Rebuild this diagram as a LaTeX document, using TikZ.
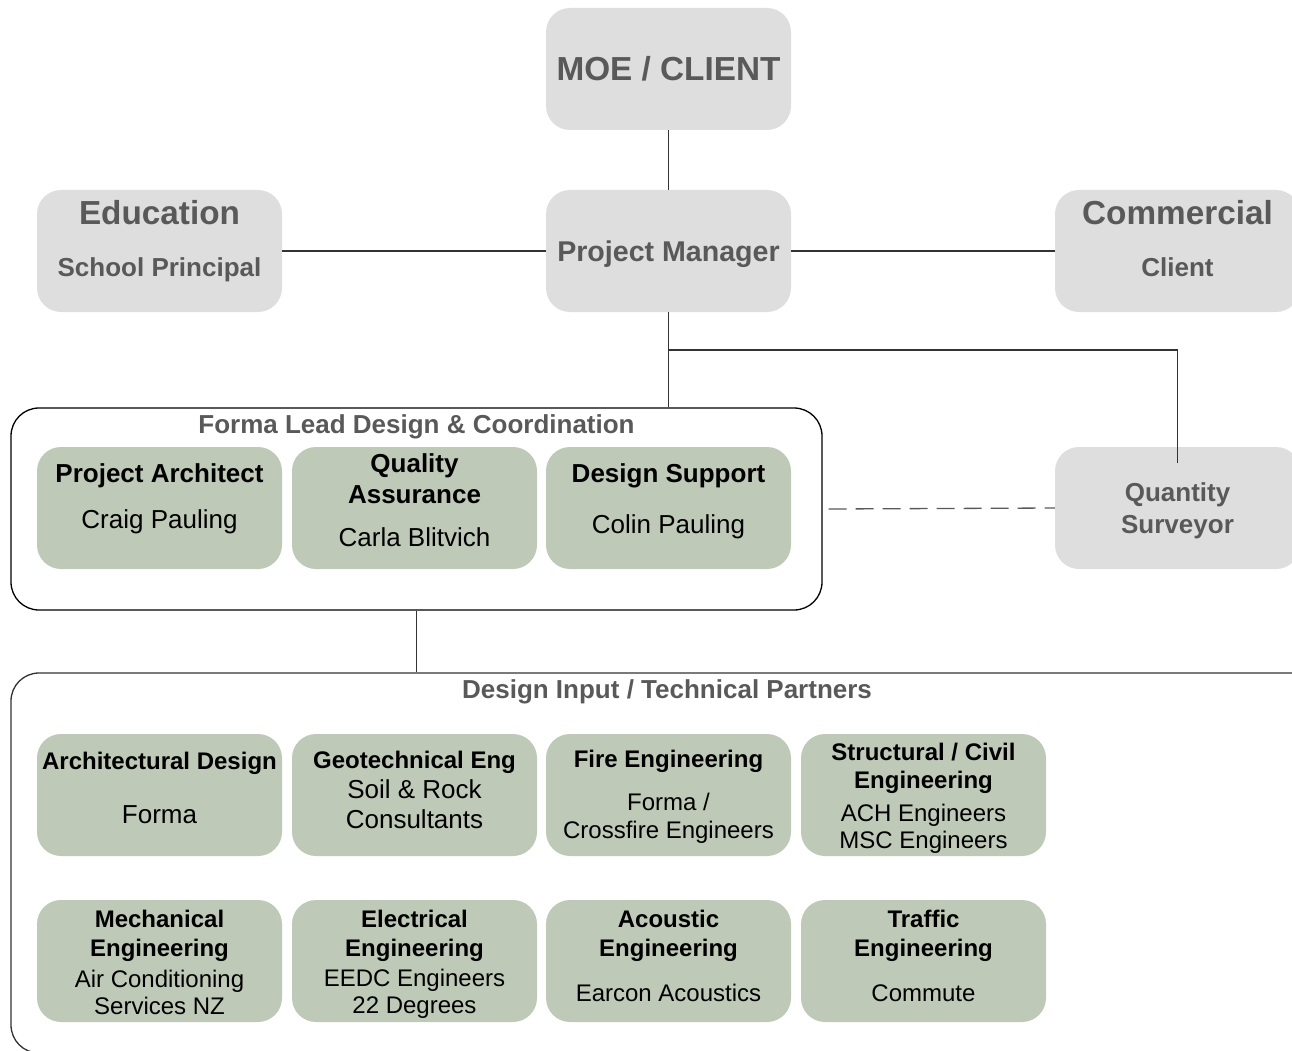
\documentclass[tikz,border=0pt]{standalone}
\usepackage{fontspec}
\setmainfont{Liberation Sans}
\usetikzlibrary{positioning}
\definecolor{boxgrey}{HTML}{DEDEDE}
\definecolor{boxgreen}{HTML}{BFC9B7}
\definecolor{greytext}{HTML}{595959}
\definecolor{linegrey}{HTML}{333333}
\newcommand{\headfont}{\fontsize{33.3}{38}\selectfont}
\newcommand{\bodyfont}{\fontsize{26}{30}\selectfont}

\begin{document}
\begin{tikzpicture}[x=1pt, y=-1pt,
  box/.style={rounded corners=24pt, minimum width=245pt, minimum height=122pt, inner sep=0pt},
  grey/.style={box, fill=boxgrey},
  sage/.style={box, fill=boxgreen},
  txt/.style={anchor=north, align=center, inner sep=0pt, font=\bodyfont},
  small/.style={txt, font=\fontsize{24}{28}\selectfont},
  link/.style={draw=linegrey, line width=1.1pt},
  frame/.style={draw=black, line width=1.3pt, rounded corners=28pt, inner sep=0pt}
]
\useasboundingbox (0,0) rectangle (1292,1051);
\clip (0,0) rectangle (1292,1051);

% client side
\node[grey, text=greytext, font=\headfont\bfseries, text height=23.8pt, text depth=0pt] (moe) at (668.5,69) {MOE / CLIENT};
\node[grey, text=greytext, font=\fontsize{28.6}{32}\selectfont\bfseries, text height=20.4pt, text depth=0pt] (pm) at (668.5,251) {Project Manager};
\node[grey] (edu) at (159.5,251) {};
\node[txt, text=greytext, font=\bodyfont\bfseries] (eduText) at (159.5,200) {{\headfont Education}\\[22pt]School Principal};
\node[grey] (com) at (1177.5,251) {};
\node[txt, text=greytext, font=\bodyfont\bfseries] (comText) at (1177.5,200) {{\headfont Commercial}\\[22pt]Client};
\node[grey] (qs) at (1177.5,508) {};
\node[txt, text=greytext, font=\bodyfont\bfseries] (qsText) at (1177.5,482.6) {Quantity\\[2pt]Surveyor};

% forma lead
\node[frame, minimum width=811pt, minimum height=202pt] (lead) at (416.5,509) {};
\node[txt, text=greytext, font=\bodyfont\bfseries] (leadText) at (416.5,414.6) {Forma Lead Design \& Coordination};
\node[sage] (arch) at (159.5,508) {};
\node[txt] (archText) at (159.5,463.6) {{\bfseries Project Architect}\\[16pt]Craig Pauling};
\node[sage] (qa) at (414.5,508) {};
\node[txt] (qaText) at (414.5,453.6) {{\bfseries Quality}\\[1pt]{\bfseries Assurance}\\[13pt]Carla Blitvich};
\node[sage] (sup) at (668.5,508) {};
\node[txt] (supText) at (668.5,463.6) {{\bfseries Design Support}\\[21pt]Colin Pauling};

% design input
\node[frame, draw=linegrey, minimum width=1309pt, minimum height=380pt] (input) at (665.5,863) {};
\node[txt, text=greytext, font=\bodyfont\bfseries] (inputText) at (667,679.6) {Design Input / Technical Partners};
\node[sage] (ad) at (159.5,795) {};
\node[small] (adText) at (159.5,751.4) {{\bfseries Architectural Design}\\[26.8pt]{\bodyfont Forma}};
\node[sage] (geo) at (414.5,795) {};
\node[small] (geoText) at (414.5,751.4) {{\bfseries Geotechnical Eng}\\[1.8pt]{\bodyfont Soil \& Rock}\\[2pt]{\bodyfont Consultants}};
\node[sage] (fire) at (668.5,795) {};
\node[small] (fireText) at (668.5,749.4) {{\bfseries Fire Engineering}\\[15pt]Forma /\\Crossfire Engineers};
\node[sage] (struct) at (923.5,795) {};
\node[small] (structText) at (923.5,743.4) {{\bfseries Structural / Civil}\\{\bfseries Engineering}\\[4pt]ACH Engineers\\[-1pt]MSC Engineers};
\node[sage] (mech) at (159.5,961) {};
\node[small] (mechText) at (159.5,909.4) {{\bfseries Mechanical}\\[1pt]{\bfseries Engineering}\\[3pt]Air Conditioning\\[-1pt]Services NZ};
\node[sage] (elec) at (414.5,961) {};
\node[small] (elecText) at (414.5,909.4) {{\bfseries Electrical}\\[1pt]{\bfseries Engineering}\\[2pt]EEDC Engineers\\[-1pt]22 Degrees};
\node[sage] (acou) at (668.5,961) {};
\node[small] (acouText) at (668.5,909.4) {{\bfseries Acoustic}\\[1pt]{\bfseries Engineering}\\[17pt]Earcon Acoustics};
\node[sage] (traf) at (923.5,961) {};
\node[small] (trafText) at (923.5,909.4) {{\bfseries Traffic}\\[1pt]{\bfseries Engineering}\\[17pt]Commute};

% connectors
\coordinate (qsJoin) at (668.5,350);
\coordinate (qsEnd) at (1177.5,463);
\draw[link] (moe) -- (pm);
\draw[link] (edu) -- (pm);
\draw[link] (pm) -- (com);
\draw[link] (pm.south) -- (pm.south |- lead.north);
\draw[link] (qsJoin) -| (qsEnd);
\draw[link, draw=greytext, line width=1.3pt, dash pattern=on 18pt off 9pt] ([xshift=6pt]lead.east) -- (qs.west);
\draw[link] (lead.south) -- (lead.south |- input.north);
\end{tikzpicture}
\end{document}
